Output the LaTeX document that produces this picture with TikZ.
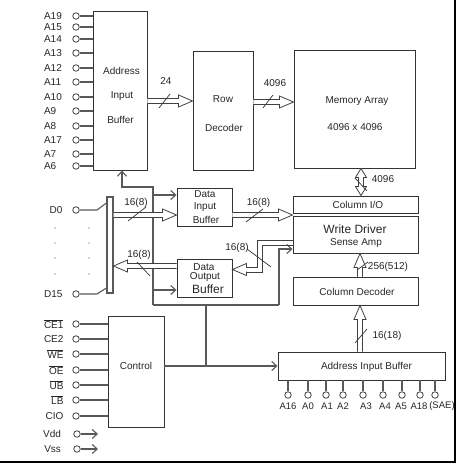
\documentclass[tikz,border=0pt]{standalone}
\usepackage{fontspec}
\setmainfont{Liberation Sans}
\usepackage{tikz}
\usetikzlibrary{arrows.meta,positioning,calc}
\newcommand{\ovl}[1]{$\overline{\hbox{#1}}$}

\begin{document}
\begin{tikzpicture}[
    x=1pt, y=-1pt,
    font=\fontsize{10}{12}\selectfont,
    text=black!85,
    blk/.style={rectangle, draw=black!80, line width=0.9pt, inner sep=0pt},
    pin/.style={circle, draw=black!75, line width=0.8pt, fill=white, inner sep=0pt, minimum size=6.5pt},
    wire/.style={draw=black!65, line width=1.1pt},
    feed/.style={wire, -{Straight Barb[length=5pt, width=9pt]}},
    slash/.style={draw=black!80, line width=0.7pt},
    shaft/.style={draw=black!75, line width=0.8pt},
    fat/.style={draw=black!75, line width=0.8pt, fill=white,
      to path={($(\tikztostart)!2.5pt!90:(\tikztotarget)$)
        -- ($(\tikztotarget)!14pt!(\tikztostart)!2.5pt!90:(\tikztotarget)$)
        -- ($(\tikztotarget)!14pt!(\tikztostart)!6pt!90:(\tikztotarget)$)
        -- (\tikztotarget)
        -- ($(\tikztotarget)!14pt!(\tikztostart)!6pt!-90:(\tikztotarget)$)
        -- ($(\tikztotarget)!14pt!(\tikztostart)!2.5pt!-90:(\tikztotarget)$)
        -- ($(\tikztostart)!2.5pt!-90:(\tikztotarget)$)}},
    fatboth/.style={draw=black!75, line width=0.8pt, fill=white,
      to path={($(\tikztostart)!9pt!(\tikztotarget)!2.5pt!90:(\tikztotarget)$)
        -- ($(\tikztotarget)!9pt!(\tikztostart)!2.5pt!90:(\tikztotarget)$)
        -- ($(\tikztotarget)!9pt!(\tikztostart)!5.5pt!90:(\tikztotarget)$)
        -- (\tikztotarget)
        -- ($(\tikztotarget)!9pt!(\tikztostart)!5.5pt!-90:(\tikztotarget)$)
        -- ($(\tikztotarget)!9pt!(\tikztostart)!2.5pt!-90:(\tikztotarget)$)
        -- ($(\tikztostart)!9pt!(\tikztotarget)!2.5pt!-90:(\tikztotarget)$)
        -- ($(\tikztostart)!9pt!(\tikztotarget)!5.5pt!-90:(\tikztotarget)$)
        -- (\tikztostart)
        -- ($(\tikztostart)!9pt!(\tikztotarget)!5.5pt!90:(\tikztotarget)$)
        -- cycle}}
]
\useasboundingbox (0,0) rectangle (475,465);

% Address input buffer (rows)
\node[blk, minimum width=54pt, minimum height=159pt] (abuf) at (120,90.5) {};
\node at (121.5,70.5) {Address};
\node at (122,96) {Input};
\node at (120.5,119.5) {Buffer};

% Row decoder and memory array
\node[blk, minimum width=60pt, minimum height=119pt] (rowdec) at (223,110.5) {};
\node at (223,99) {Row};
\node at (224,127.5) {Decoder};
\node[blk, minimum width=121pt, minimum height=118pt] (memarr) at (354.5,109) {};
\node at (357,101) {Memory Array};
\node at (355,127) {4096 x 4096};

% Column side
\node[blk, minimum width=125pt, minimum height=17pt] (colio) at (355.5,204.5) {};
\node at (358,205) {Column I/O};
\node[blk, minimum width=125pt, minimum height=37pt] (wdrv) at (355.5,234.5) {};
\node[font=\fontsize{12}{14}\selectfont] at (355,229.5) {Write Driver};
\node at (356,243.5) {Sense Amp};
\node[blk, minimum width=125pt, minimum height=28pt] (coldec) at (355.5,291) {};
\node at (357,291.5) {Column Decoder};
\node[blk, minimum width=167pt, minimum height=28pt] (cbuf) at (361.5,366) {};
\node at (366.5,366.5) {Address Input Buffer};

% Control
\node[blk, minimum width=56pt, minimum height=111pt] (ctrl) at (136,371.5) {};
\node at (136,366) {Control};

% Data buffers and bus
\node[blk, minimum width=55pt, minimum height=38pt] (dib) at (204.5,207) {};
\node at (205,194) {Data};
\node at (205,207) {Input};
\node at (206,219.5) {Buffer};
\node[blk, minimum width=55pt, minimum height=38pt] (dob) at (204.5,278) {};
\node at (204,267) {Data};
\node at (205,277.5) {Output};
\node[font=\fontsize{12}{14}\selectfont] at (208,289) {Buffer};
\node[blk, draw=black!65, line width=1.1pt, minimum width=6pt, minimum height=96pt] (dbus) at (110,245) {};

% Address pins
\foreach \name/\y in {A19/16, A15/27, A14/39, A13/53, A12/68, A11/82, A10/97, A9/111, A8/126, A17/140, A7/154, A6/166} {
  \node[anchor=west] at (40.5,\y) {\name};
  \node[pin] (p\name) at (76,\y) {};
  \draw[wire] (p\name) -- (abuf.west |- p\name);
}

% Control pins
\foreach \txt/\y [count=\i] in {\ovl{CE1}/324, CE2/339, \ovl{WE}/354, \ovl{OE}/370, \ovl{UB}/385, \ovl{LB}/400, CIO/416} {
  \node[anchor=east] at (67,\y) {\txt};
  \node[pin] (c\i) at (76,\y) {};
  \draw[wire] (c\i) -- (ctrl.west |- c\i);
}
\foreach \txt/\y in {Vdd/434, Vss/449} {
  \node[anchor=east] at (64.5,\y) {\txt};
  \node[pin] (\txt) at (77,\y) {};
  \coordinate (\txt e) at (98,\y);
  \draw[feed] (\txt) -- (\txt e);
}

% Data pins
\node[anchor=east] at (66,210) {D0};
\node[pin] (d0) at (76,210) {};
\draw[wire] (d0) -- (97,210) -- (dbus.west |- 0,203);
\node[anchor=east] at (66,294) {D15};
\node[pin] (d15) at (76,294) {};
\draw[wire] (d15) -- (97,294) -- (dbus.west |- 0,288);
\foreach \y in {228,243,258,274} {
  \fill[black!70] (55,\y) circle (0.7pt);
  \fill[black!70] (89,\y) circle (0.7pt);
}

% Column address pins
\foreach \txt/\x/\lx [count=\i] in {A16/288/288, A0/308/308, A1/326/327, A2/343/343, A3/363/366, A4/383/385, A5/402/401, A18/420/419, {(SAE)}/435/442} {
  \node[pin] (b\i) at (\x,395) {};
  \draw[wire] (cbuf.south -| b\i) -- (b\i);
  \node[font=\fontsize{9.5}{11}\selectfont] at (\lx,406) {\txt};
}

% Control lines
\coordinate (jc) at (206,366);
\coordinate (jl) at (153,305);
\coordinate (jr) at (279,305);
\coordinate (jt) at (153,187);
\draw[feed] (ctrl.east |- cbuf.west) -- (cbuf.west);
\draw[wire] (jc) -- (jc |- jl);
\draw[wire] (jl) -- (jr);
\draw[feed] (jr) |- (wdrv.west |- 0,249);
\draw[feed] (jl) -- (jt) -| (abuf.south -| 122,0);
\draw[feed] (jl |- 0,195) -- (dib.west |- 0,195);
\draw[feed] (jl |- 0,290) -- (dob.west |- 0,290);

% Buses
\draw[fat] (abuf.east |- 0,101) to (rowdec.west |- 0,101);
\draw[fat] (rowdec.east |- 0,102) to (memarr.west |- 0,102);
\draw[fatboth] (memarr.south -| 361,0) to (colio.north -| 361,0);
\draw[fat] (coldec.north -| 360,0) to (wdrv.south -| 360,0);
\draw[fat] (cbuf.north -| 360,0) to (coldec.south -| 360,0);
\draw[fat] (dbus.east |- 0,215) to (dib.west |- 0,215);
\draw[fat] (dib.east |- 0,215) to (wdrv.west |- 0,215);
\draw[fat] (dob.west |- 0,266) to (dbus.east |- 0,266);
\coordinate (hb) at (246,269.5);
\draw[shaft] (wdrv.west |- 0,240) -| (257.5,267) -- (hb |- 0,267);
\draw[shaft] (wdrv.west |- 0,245) -| (262.5,272) -- (hb |- 0,272);
\draw[fat] (hb) to (dob.east |- hb);

% Bus widths
\draw[slash] (159,108) -- (170,94);
\node at (166,81) {24};
\draw[slash] (263,108) -- (273,95);
\node at (275,83) {4096};
\draw[slash] (355,178) -- (367,191);
\node at (383,179) {4096};
\draw[slash] (357,270) -- (368,262);
\node at (388,267) {256(512)};
\draw[slash] (355,343) -- (367,329);
\node at (387,336) {16(18)};
\draw[slash] (128,221) -- (146,207);
\node at (136,203) {16(8)};
\draw[slash] (246,222) -- (263,209);
\node at (258.5,203) {16(8)};
\draw[slash] (137,262) -- (150,276);
\node at (139,255) {16(8)};
\draw[slash] (247,249) -- (271,267);
\node at (237,248) {16(8)};

% Frame
\draw[line width=1.7pt] (455.3,0) -- (455.3,462.2) -- (0,462.2);
\end{tikzpicture}
\end{document}
